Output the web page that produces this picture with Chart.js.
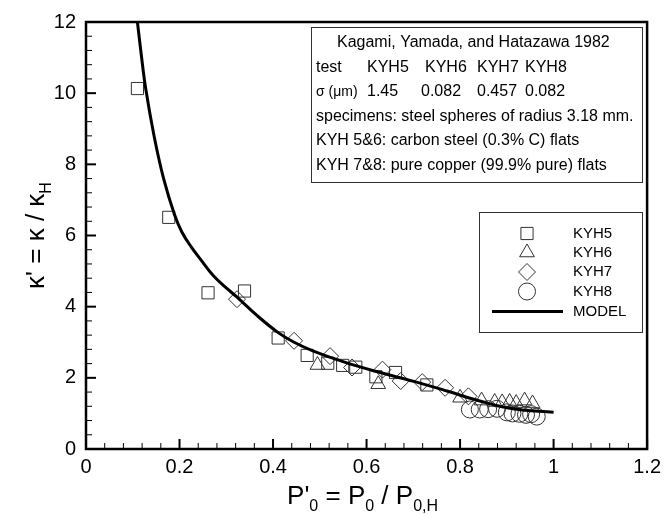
<!DOCTYPE html>
<html>
<head>
<meta charset="utf-8">
<script src="https://cdn.jsdelivr.net/npm/chart.js@4.4.0/dist/chart.umd.min.js"></script>
<style>
  html, body { margin: 0; padding: 0; background: #fff; }
</style>
</head>
<body>
<canvas id="chart" width="667" height="514"></canvas>
<script>
// values (P'0, kappa')
const kyh5X = [0.110, 0.177, 0.261, 0.339, 0.411, 0.473, 0.517, 0.549, 0.577, 0.620, 0.662, 0.729];
const kyh5Y = [10.13, 6.51, 4.39, 4.44, 3.12, 2.63, 2.41, 2.35, 2.30, 2.03, 2.15, 1.80];

const kyh6X = [0.495, 0.625, 0.800, 0.846, 0.874, 0.890, 0.906, 0.920, 0.938, 0.955];
const kyh6Y = [2.36, 1.82, 1.44, 1.36, 1.32, 1.31, 1.32, 1.29, 1.36, 1.28];

const kyh7X = [0.323, 0.445, 0.522, 0.569, 0.634, 0.673, 0.719, 0.768, 0.818];
const kyh7Y = [4.21, 3.04, 2.61, 2.29, 2.23, 1.91, 1.88, 1.72, 1.48];

const kyh8X = [0.821, 0.842, 0.860, 0.879, 0.900, 0.912, 0.927, 0.941, 0.952, 0.964];
const kyh8Y = [1.11, 1.11, 1.12, 1.13, 1.03, 1.00, 0.99, 0.96, 0.98, 0.91];

const modelX = [0.110, 0.118, 0.128, 0.146, 0.166, 0.189, 0.205, 0.225, 0.245, 0.273, 0.305, 0.323, 0.365, 0.411, 0.445, 0.485, 0.553, 0.623, 0.701, 0.772, 0.842, 0.913, 1.0];
const modelY = [12.0, 11.1, 10.1, 8.77, 7.6, 6.6, 6.1, 5.68, 5.33, 4.86, 4.47, 4.27, 3.76, 3.27, 3.0, 2.76, 2.44, 2.17, 1.90, 1.63, 1.35, 1.13, 1.03];

const xTicks = [0, 0.2, 0.4, 0.6, 0.8, 1, 1.2];
const xTickLabels = ['0', '0.2', '0.4', '0.6', '0.8', '1', '1.2'];
const yTicks = [0, 2, 4, 6, 8, 10, 12];
const yTickLabels = ['0', '2', '4', '6', '8', '10', '12'];

const FONT = "'Liberation Sans', Arial, sans-serif";
const MARK = '#333';

function pts(xs, ys) {
    return xs.map((x, i) => ({ x: x, y: ys[i] }));
}

const series = [
    { label: 'KYH5', data: pts(kyh5X, kyh5Y), pointStyle: 'rect', pointRadius: 8.6 },
    { label: 'KYH6', data: pts(kyh6X, kyh6Y), pointStyle: 'triangle', pointRadius: 8.5 },
    { label: 'KYH7', data: pts(kyh7X, kyh7Y), pointStyle: 'rectRot', pointRadius: 8.5 },
    { label: 'KYH8', data: pts(kyh8X, kyh8Y), pointStyle: 'circle', pointRadius: 8.5 }
];

// draws frame, inward ticks, the note box, legend and axis titles
const decorations = {
    id: 'decorations',
    afterDraw(chart) {
        const { ctx, chartArea: a, scales: { x, y } } = chart;
        ctx.save();

        // minor + major ticks, bottom and left only
        ctx.strokeStyle = '#000';
        for (let i = 0; i <= 30; i++) {
            const px = x.getPixelForValue(i * 0.04);
            const major = i % 5 === 0;
            ctx.lineWidth = major ? 2 : 1;
            ctx.beginPath();
            ctx.moveTo(px, a.bottom);
            ctx.lineTo(px, a.bottom - (major ? 10 : 6));
            ctx.stroke();
        }
        for (let i = 0; i <= 30; i++) {
            const py = y.getPixelForValue(i * 0.4);
            const major = i % 5 === 0;
            ctx.lineWidth = major ? 2 : 1;
            ctx.beginPath();
            ctx.moveTo(a.left, py);
            ctx.lineTo(a.left + (major ? 10 : 6), py);
            ctx.stroke();
        }

        // frame
        ctx.lineWidth = 2.5;
        ctx.strokeRect(a.left, a.top, a.right - a.left, a.bottom - a.top);

        // note box
        ctx.lineWidth = 1;
        ctx.strokeStyle = '#333';
        ctx.fillStyle = '#fff';
        ctx.fillRect(311, 27, 331, 155);
        ctx.strokeRect(311.5, 27.5, 331, 155);

        ctx.fillStyle = '#000';
        ctx.font = '16px ' + FONT;
        ctx.textBaseline = 'middle';
        ctx.textAlign = 'left';
        ctx.fillText('Kagami, Yamada, and Hatazawa 1982', 337, 43);
        const row2 = [['test', 316], ['KYH5', 367], ['KYH6', 425], ['KYH7', 477], ['KYH8', 525]];
        row2.forEach(([t, px]) => ctx.fillText(t, px, 67.5));
        ctx.font = '14px ' + FONT;
        ctx.fillText('\u03c3 (\u03bcm)', 316, 92);
        ctx.font = '16px ' + FONT;
        const row3 = [['1.45', 367], ['0.082', 421], ['0.457', 477], ['0.082', 525]];
        row3.forEach(([t, px]) => ctx.fillText(t, px, 92));
        ctx.fillText('specimens: steel spheres of radius 3.18 mm.', 316, 116.5);
        ctx.fillText('KYH 5&6: carbon steel (0.3% C) flats', 316, 141);
        ctx.fillText('KYH 7&8: pure copper (99.9% pure) flats', 316, 165.5);

        // legend box
        ctx.fillStyle = '#fff';
        ctx.fillRect(479, 212, 163, 120);
        ctx.strokeRect(479.5, 212.5, 163, 120);
        ctx.font = '15px ' + FONT;
        const rows = [233.5, 252.5, 272, 291.5];
        series.forEach((s, i) => {
            ctx.strokeStyle = MARK;
            ctx.fillStyle = 'rgba(0,0,0,0)';
            ctx.lineWidth = 1;
            Chart.helpers.drawPoint(ctx, { pointStyle: s.pointStyle, radius: s.pointRadius, rotation: 0, borderWidth: 1 }, 527, rows[i]);
            ctx.fillStyle = '#000';
            ctx.fillText(s.label, 573, rows[i]);
        });
        ctx.strokeStyle = '#000';
        ctx.lineWidth = 3;
        ctx.beginPath();
        ctx.moveTo(492, 311.5);
        ctx.lineTo(563, 311.5);
        ctx.stroke();
        ctx.fillText('MODEL', 573, 311.5);

        // x title: P'0 = P0 / P0,H
        ctx.textBaseline = 'alphabetic';
        const big = '26px ' + FONT, small = '16px ' + FONT;
        const parts = [["P'", big, 0], ['0', small, 7], [' = P', big, 0], ['0', small, 7], [' / P', big, 0], ['0,H', small, 7]];
        let w = 0;
        parts.forEach(([t, f]) => { ctx.font = f; w += ctx.measureText(t).width; });
        let cx = (a.left + a.right) / 2 - 4 - w / 2;
        parts.forEach(([t, f, dy]) => {
            ctx.font = f;
            ctx.fillText(t, cx, 504 + dy);
            cx += ctx.measureText(t).width;
        });

        // y title: kappa' = kappa / kappa_H (rotated)
        ctx.translate(44, (a.top + a.bottom) / 2);
        ctx.rotate(-Math.PI / 2);
        const yparts = [["\u03ba' = \u03ba / \u03ba", big, 0], ['H', small, 7]];
        w = 0;
        yparts.forEach(([t, f]) => { ctx.font = f; w += ctx.measureText(t).width; });
        cx = -w / 2;
        yparts.forEach(([t, f, dy]) => {
            ctx.font = f;
            ctx.fillText(t, cx, dy);
            cx += ctx.measureText(t).width;
        });

        ctx.restore();
    }
};

const ctx = document.getElementById('chart').getContext('2d');
const chart = new Chart(ctx, {
    type: 'scatter',
    data: {
        datasets: [
            {
                type: 'line',
                label: 'MODEL',
                data: pts(modelX, modelY),
                borderColor: '#000',
                borderWidth: 3,
                pointRadius: 0,
                tension: 0.4,
                fill: false,
                order: 0
            },
            ...series.map(s => ({
                label: s.label,
                data: s.data,
                pointStyle: s.pointStyle,
                pointRadius: s.pointRadius,
                pointHoverRadius: s.pointRadius,
                borderColor: MARK,
                backgroundColor: 'rgba(0,0,0,0)',
                borderWidth: 1,
                order: 1
            }))
        ]
    },
    options: {
        responsive: false,
        animation: false,
        layout: { padding: { left: 0, right: 17, top: 19, bottom: 0 } },
        plugins: {
            legend: { display: false },
            tooltip: { enabled: false }
        },
        scales: {
            x: {
                type: 'linear',
                min: 0,
                max: 1.2,
                afterBuildTicks: (scale) => { scale.ticks = xTicks.map(v => ({ value: v })); },
                afterFit: (scale) => { scale.height = 65; },
                grid: { display: false, drawTicks: false },
                border: { display: false },
                ticks: {
                    padding: 6,
                    color: '#000',
                    font: { family: FONT, size: 20 },
                    maxRotation: 0,
                    autoSkip: false,
                    callback: (v, i) => xTickLabels[i]
                }
            },
            y: {
                type: 'linear',
                min: 0,
                max: 12,
                afterBuildTicks: (scale) => { scale.ticks = yTicks.map(v => ({ value: v })); },
                afterFit: (scale) => { scale.width = 86; },
                grid: { display: false, drawTicks: false },
                border: { display: false },
                ticks: {
                    padding: 10,
                    color: '#000',
                    font: { family: FONT, size: 20 },
                    autoSkip: false,
                    callback: (v, i) => yTickLabels[i]
                }
            }
        }
    },
    plugins: [decorations]
});
</script>
</body>
</html>
